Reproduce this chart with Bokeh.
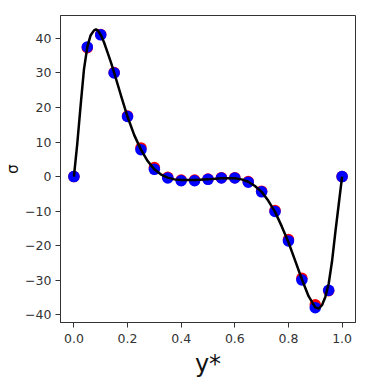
from bokeh.plotting import figure
from bokeh.models import Range1d, FixedTicker
from bokeh.embed import file_html
from bokeh.resources import INLINE

# sample points (21)
x_pts = [0.0, 0.05, 0.1, 0.15, 0.2, 0.25, 0.3, 0.35, 0.4, 0.45, 0.5,
         0.55, 0.6, 0.65, 0.7, 0.75, 0.8, 0.85, 0.9, 0.95, 1.0]
blue_vals = [0.0, 37.5, 41.0, 30.0, 17.4, 7.8, 2.1, -0.4, -1.2, -1.2, -0.8,
             -0.4, -0.4, -1.6, -4.4, -10.1, -18.6, -29.9, -37.9, -32.9, 0.0]
red_vals = [0.0, 37.3, 41.1, 30.1, 17.5, 8.3, 2.6, -0.2, -1.0, -1.0, -0.7,
            -0.3, -0.3, -1.4, -4.2, -9.8, -18.2, -29.4, -37.1, -33.0, 0.0]

# reference curve
x_curve = [0.0, 0.0125, 0.025, 0.0375, 0.05, 0.0625, 0.075, 0.0825, 0.09, 0.1, 0.1125,
           0.125, 0.1375, 0.15, 0.175, 0.2, 0.225, 0.25, 0.275, 0.3, 0.325,
           0.35, 0.375, 0.4, 0.45, 0.5, 0.55, 0.6, 0.625, 0.65, 0.675,
           0.7, 0.725, 0.75, 0.775, 0.8, 0.825, 0.85, 0.875, 0.9, 0.9125,
           0.925, 0.9375, 0.95, 0.9625, 0.975, 0.9875, 1.0]
y_curve = [0.0, 9.5, 20.5, 31.0, 37.5, 40.9, 42.3, 42.6, 42.2, 41.0, 38.8,
           36.0, 33.2, 30.1, 23.6, 17.3, 12.0, 7.8, 4.5, 2.1, 0.6,
           -0.3, -0.8, -1.0, -1.0, -0.8, -0.5, -0.5, -0.8, -1.5, -2.7,
           -4.4, -7.0, -10.2, -14.4, -19.0, -24.3, -29.7, -34.6, -37.8, -38.2,
           -37.2, -34.8, -31.0, -24.5, -16.0, -8.0, 0.0]

x_ticks = [0.0, 0.2, 0.4, 0.6, 0.8, 1.0]
x_tick_labels = ["0.0", "0.2", "0.4", "0.6", "0.8", "1.0"]
y_ticks = [-40, -30, -20, -10, 0, 10, 20, 30, 40]
y_tick_labels = ["\u221240", "\u221230", "\u221220", "\u221210", "0", "10", "20", "30", "40"]

p = figure(width=375, height=387, output_backend="svg", toolbar_location=None,
           x_range=Range1d(-0.05, 1.05), y_range=Range1d(-42.2, 46.6),
           min_border_left=60, min_border_right=20, min_border_top=15,
           min_border_bottom=65)
p.background_fill_color = "white"
p.border_fill_color = "white"
p.grid.visible = False
p.outline_line_color = "#333333"
p.outline_line_width = 1

for ax in (p.xaxis[0], p.yaxis[0]):
    ax.axis_line_color = "#333333"
    ax.major_tick_line_color = "#333333"
    ax.major_tick_out = 5
    ax.major_tick_in = 0
    ax.minor_tick_line_color = None
    ax.major_label_text_font = "DejaVu Sans"
    ax.major_label_text_font_size = "12.5px"
    ax.major_label_text_color = "#333333"

p.xaxis.ticker = FixedTicker(ticks=x_ticks)
p.xaxis.major_label_overrides = {t: l for t, l in zip(x_ticks, x_tick_labels)}
p.yaxis.ticker = FixedTicker(ticks=y_ticks)
p.yaxis.major_label_overrides = {t: l for t, l in zip(y_ticks, y_tick_labels)}
p.xaxis.major_label_standoff = 6
p.yaxis.major_label_standoff = 4

p.xaxis.axis_label = "y*"
p.xaxis.axis_label_text_font = "DejaVu Sans"
p.xaxis.axis_label_text_font_size = "24px"
p.xaxis.axis_label_text_font_style = "normal"
p.xaxis.axis_label_text_color = "#111111"
p.xaxis.axis_label_standoff = 4

p.yaxis.axis_label = "\u03c3"
p.yaxis.axis_label_text_font = "DejaVu Sans"
p.yaxis.axis_label_text_font_size = "15px"
p.yaxis.axis_label_text_font_style = "normal"
p.yaxis.axis_label_text_color = "#111111"
p.yaxis.axis_label_standoff = 0

p.scatter(x_pts, red_vals, size=11.5, color="red", line_color=None)
p.scatter(x_pts, blue_vals, size=11.5, color="blue", line_color=None)
p.line(x_curve, y_curve, line_color="black", line_width=2.5)

open("out.html", "w").write(file_html(p, INLINE))
